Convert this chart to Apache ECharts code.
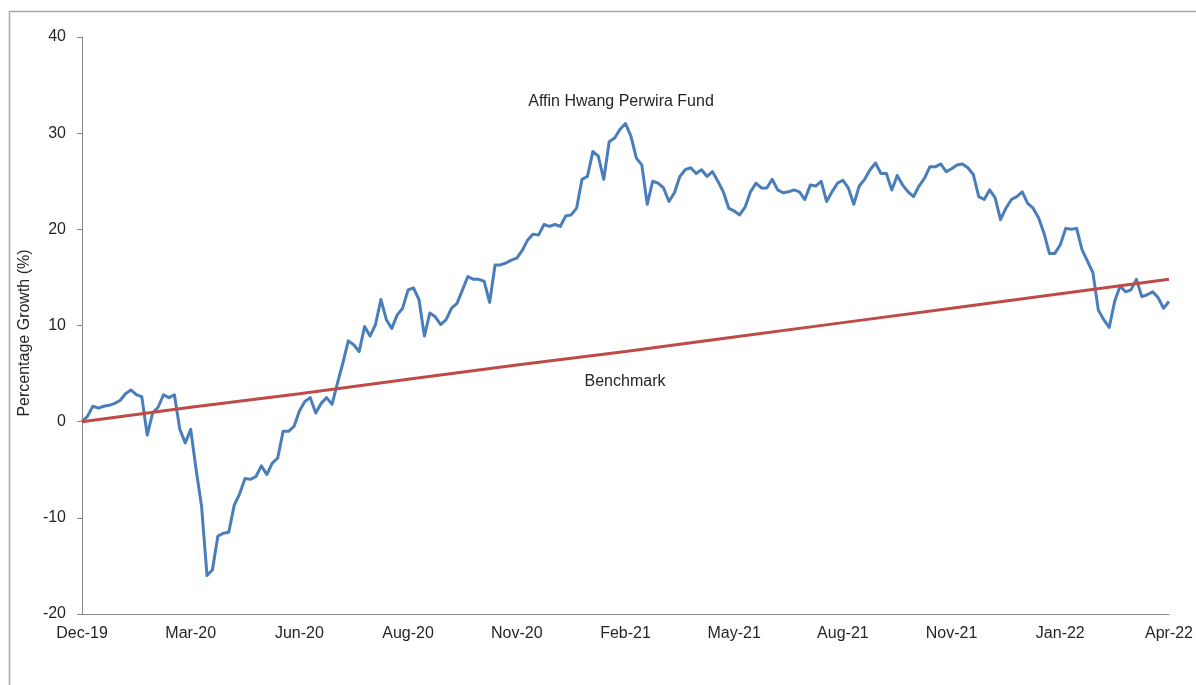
<!DOCTYPE html>
<html>
<head>
<meta charset="utf-8">
<script src="https://cdn.jsdelivr.net/npm/echarts@6/dist/echarts.min.js"></script>
<style>
html,body{margin:0;padding:0;background:#fff;}
#chart{width:1196px;height:685px;}
</style>
</head>
<body>
<div id="chart"></div>
<script>
// Tick labels along the x axis (one every 20 samples)
var tickLabels = ['Dec-19','Mar-20','Jun-20','Aug-20','Nov-20','Feb-21','May-21','Aug-21','Nov-21','Jan-22','Apr-22'];
var samplesPerTick = 20;

// Affin Hwang Perwira Fund, percentage growth (%)
var fundValues = [
  0.0, 0.55, 1.6, 1.4, 1.6, 1.7, 1.9, 2.2, 2.9, 3.3,
  2.8, 2.6, -1.4, 0.9, 1.5, 2.8, 2.5, 2.8, -0.8, -2.2,
  -0.8, -5.0, -8.8, -16.0, -15.4, -11.9, -11.6, -11.5, -8.7, -7.5,
  -5.9, -6.0, -5.7, -4.6, -5.5, -4.3, -3.8, -1.0, -1.0, -0.5,
  1.1, 2.1, 2.5, 0.9, 1.9, 2.5, 1.8, 4.0, 6.1, 8.4,
  8.0, 7.3, 9.9, 8.9, 10.1, 12.7, 10.6, 9.7, 11.1, 11.8,
  13.7, 13.9, 12.7, 8.9, 11.3, 10.9, 10.1, 10.6, 11.8, 12.3,
  13.7, 15.1, 14.8, 14.8, 14.6, 12.4, 16.3, 16.3, 16.5, 16.8,
  17.0, 17.8, 18.9, 19.5, 19.4, 20.5, 20.3, 20.5, 20.3, 21.4,
  21.5, 22.2, 25.2, 25.5, 28.1, 27.6, 25.2, 29.1, 29.5, 30.4,
  31.0, 29.7, 27.4, 26.7, 22.6, 25.0, 24.8, 24.3, 22.9, 23.8,
  25.5, 26.2, 26.4, 25.8, 26.2, 25.5, 26.0, 25.0, 23.9, 22.2,
  21.9, 21.5, 22.3, 23.9, 24.8, 24.3, 24.3, 25.2, 24.1, 23.8,
  23.9, 24.1, 23.9, 23.1, 24.6, 24.5, 25.0, 22.9, 23.9, 24.8,
  25.1, 24.3, 22.6, 24.5, 25.2, 26.2, 26.9, 25.8, 25.8, 24.1,
  25.6, 24.6, 23.9, 23.4, 24.5, 25.3, 26.5, 26.5, 26.8, 26.0,
  26.3, 26.7, 26.8, 26.4, 25.7, 23.4, 23.1, 24.1, 23.3, 21.0,
  22.2, 23.1, 23.4, 23.9, 22.7, 22.2, 21.2, 19.6, 17.5, 17.5,
  18.4, 20.1, 20.0, 20.1, 17.9, 16.7, 15.5, 11.6, 10.6, 9.8,
  12.5, 14.1, 13.5, 13.7, 14.8, 13.0, 13.2, 13.5, 12.9, 11.8,
  12.5
];

// Benchmark, percentage growth (%) at each labelled tick
var benchmarkAtTicks = [0, 1.5, 2.9, 4.4, 5.9, 7.3, 8.8, 10.3, 11.8, 13.3, 14.8];

var seriesNames = ['Affin Hwang Perwira Fund', 'Benchmark'];

// Build category list and sparse benchmark series from the arrays above
var categories = fundValues.map(function (v, i) {
  return (i % samplesPerTick === 0) ? tickLabels[i / samplesPerTick] : String(i);
});
var benchmarkData = fundValues.map(function (v, i) {
  return (i % samplesPerTick === 0) ? benchmarkAtTicks[i / samplesPerTick] : null;
});

var FONT = '"Liberation Sans", Arial, sans-serif';
var TXT = '#262626';

var chart = echarts.init(document.getElementById('chart'), null, {renderer: 'canvas'});
chart.setOption({
  animation: false,
  backgroundColor: '#ffffff',
  grid: {left: 82, right: 24, top: 37, bottom: 71, containLabel: false},
  xAxis: {
    type: 'category',
    data: categories,
    boundaryGap: false,
    axisLine: {show: true, onZero: false, lineStyle: {color: '#868686', width: 1}},
    axisTick: {show: false},
    splitLine: {show: false},
    axisLabel: {
      interval: samplesPerTick - 1,
      margin: 12,
      color: TXT,
      fontFamily: FONT,
      fontSize: 16
    }
  },
  yAxis: {
    type: 'value',
    min: -20,
    max: 40,
    interval: 10,
    axisLine: {show: true, onZero: false, lineStyle: {color: '#868686', width: 1}},
    axisTick: {show: true, inside: false, length: 5, lineStyle: {color: '#868686'}},
    splitLine: {show: false},
    axisLabel: {margin: 16, color: TXT, fontFamily: FONT, fontSize: 16}
  },
  graphic: [
    {type: 'rect', left: 7, top: 9, shape: {width: 1200, height: 700},
     style: {fill: 'none', stroke: '#a6a6a6', lineWidth: 1.5}, silent: true},
    {type: 'text', x: 25, y: 333, rotation: Math.PI / 2,
     style: {text: 'Percentage Growth (%)', fill: TXT, font: '16px ' + FONT, align: 'center', verticalAlign: 'middle'}},
    {type: 'text', x: 621, y: 102,
     style: {text: seriesNames[0], fill: TXT, font: '16px ' + FONT, align: 'center', verticalAlign: 'middle'}},
    {type: 'text', x: 625, y: 382,
     style: {text: seriesNames[1], fill: TXT, font: '16px ' + FONT, align: 'center', verticalAlign: 'middle'}}
  ],
  series: [
    {
      name: seriesNames[0],
      type: 'line',
      data: fundValues,
      showSymbol: false,
      symbol: 'none',
      lineStyle: {color: '#4A7EBB', width: 3, join: 'round'},
      itemStyle: {color: '#4A7EBB'},
      z: 2
    },
    {
      name: seriesNames[1],
      type: 'line',
      data: benchmarkData,
      connectNulls: true,
      showSymbol: false,
      symbol: 'none',
      lineStyle: {color: '#BE4B48', width: 3},
      itemStyle: {color: '#BE4B48'},
      z: 3
    }
  ]
});
</script>
</body>
</html>
